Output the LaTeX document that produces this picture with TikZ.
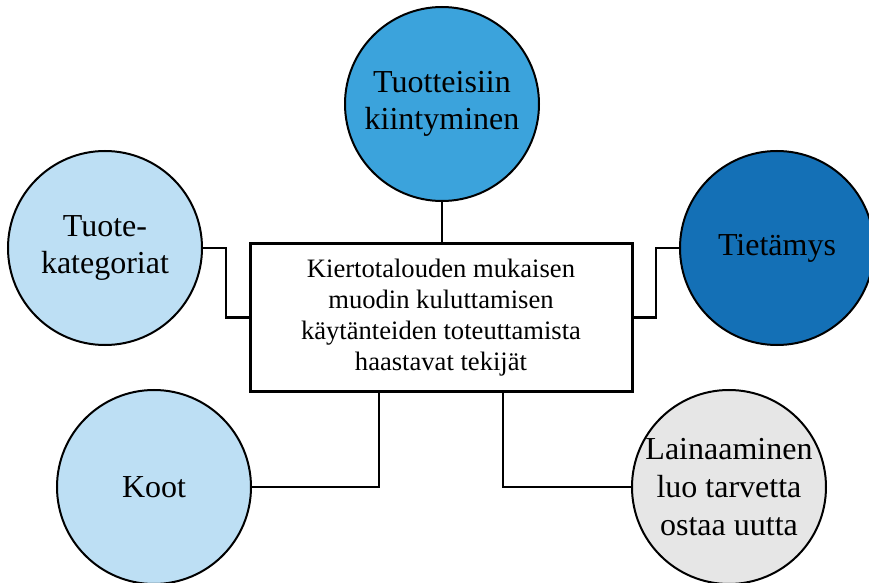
\documentclass[tikz,border=0pt]{standalone}
\usepackage{fontspec}
\setmainfont{Liberation Serif}
\usepackage{tikz}
\usetikzlibrary{calc}
\definecolor{paleblue}{RGB}{189,223,244}
\definecolor{midblue}{RGB}{59,163,220}
\definecolor{deepblue}{RGB}{20,112,182}
\definecolor{palegrey}{RGB}{230,230,230}
\tikzset{>=latex}
\tikzset{
  factor/.style = {circle, draw = black, line width = 1pt, minimum size = 97pt, inner sep = 0pt, align = center, font = \fontsize{16}{18.8}\selectfont},
  mainbox/.style = {rectangle, draw = black, fill = white, line width = 1.5pt, minimum width = 191pt, minimum height = 73.5pt, align = center, font = \fontsize{13.3}{15.6}\selectfont},
  link/.style = {line width = 1.2pt}
}

\begin{document}
\begin{tikzpicture}[x = 0.5pt, y = -0.5pt]
\useasboundingbox (0, 0) rectangle (869, 583);
\node[mainbox] (box) at (441, 317.5) {Kiertotalouden mukaisen\\ muodin kuluttamisen\\ käytänteiden toteuttamista\\ haastavat tekijät};
\node[factor, fill = midblue] (top) at (442, 104) {Tuotteisiin\\ kiintyminen};
\node[factor, fill = paleblue] (tl) at (105, 248) {Tuote-\\ kategoriat};
\node[factor, fill = deepblue] (tr) at (777, 248) {Tietämys};
\node[factor, fill = paleblue] (bl) at (154, 487) {Koot};
\node[factor, fill = palegrey] (br) at (729, 487) {Lainaaminen\\ luo tarvetta\\ ostaa uutta};
% connectors
\draw[link] (top.south) -- (top.south |- box.north);
\draw[link] (tl.east) -- ++(23, 0) |- (box.west);
\draw[link] (tr.west) -- ++(-23, 0) |- (box.east);
\draw[link] ([xshift = -31pt]box.south) |- (bl.east);
\draw[link] ([xshift = 31pt]box.south) |- (br.west);
\end{tikzpicture}
\end{document}
